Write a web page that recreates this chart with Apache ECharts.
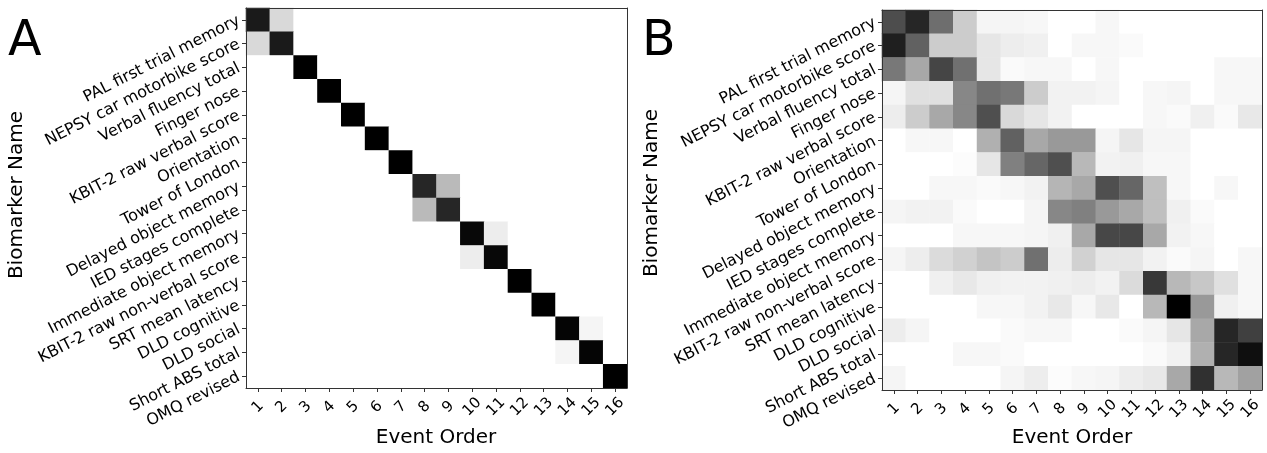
<!DOCTYPE html>
<html>
<head>
<meta charset="utf-8">
<script src="https://cdn.jsdelivr.net/npm/echarts@6/dist/echarts.min.js"></script>
<style>
html,body{margin:0;padding:0;background:#fff;}
#chart{width:1267px;height:453px;}
</style>
</head>
<body>
<div id="chart"></div>
<script>
const biomarkers = [
  'PAL first trial memory','NEPSY car motorbike score','Verbal fluency total','Finger nose',
  'KBIT-2 raw verbal score','Orientation','Tower of London','Delayed object memory',
  'IED stages complete','Immediate object memory','KBIT-2 raw non-verbal score','SRT mean latency',
  'DLD cognitive','DLD social','Short ABS total','OMQ revised'
];
const eventOrder = ['1','2','3','4','5','6','7','8','9','10','11','12','13','14','15','16'];

// Panel A: probability matrix (rows = biomarkers, cols = event order)
const matrixA = [
  [0.90,0.15,0,0,0,0,0,0,0,0,0,0,0,0,0,0],
  [0.15,0.90,0,0,0,0,0,0,0,0,0,0,0,0,0,0],
  [0,0,1.00,0,0,0,0,0,0,0,0,0,0,0,0,0],
  [0,0,0,1.00,0,0,0,0,0,0,0,0,0,0,0,0],
  [0,0,0,0,1.00,0,0,0,0,0,0,0,0,0,0,0],
  [0,0,0,0,0,1.00,0,0,0,0,0,0,0,0,0,0],
  [0,0,0,0,0,0,1.00,0,0,0,0,0,0,0,0,0],
  [0,0,0,0,0,0,0,0.85,0.27,0,0,0,0,0,0,0],
  [0,0,0,0,0,0,0,0.27,0.85,0,0,0,0,0,0,0],
  [0,0,0,0,0,0,0,0,0,0.97,0.07,0,0,0,0,0],
  [0,0,0,0,0,0,0,0,0,0.07,0.97,0,0,0,0,0],
  [0,0,0,0,0,0,0,0,0,0,0,1.00,0,0,0,0],
  [0,0,0,0,0,0,0,0,0,0,0,0,1.00,0,0,0],
  [0,0,0,0,0,0,0,0,0,0,0,0,0,0.98,0.04,0],
  [0,0,0,0,0,0,0,0,0,0,0,0,0,0.04,0.98,0],
  [0,0,0,0,0,0,0,0,0,0,0,0,0,0,0,1.00]
];

// Panel B
const matrixB = [
  [0.70,0.85,0.57,0.20,0.04,0.04,0.03,0,0,0.03,0,0,0,0,0,0],
  [0.88,0.62,0.20,0.20,0.10,0.07,0.06,0,0.03,0.03,0.02,0,0,0,0,0],
  [0.53,0.34,0.73,0.56,0.10,0.02,0.03,0.03,0,0.03,0,0,0,0,0.03,0.03],
  [0.04,0.12,0.12,0.47,0.56,0.53,0.20,0.05,0.05,0.04,0,0.03,0.04,0,0.03,0.03],
  [0.07,0.20,0.34,0.47,0.69,0.15,0.10,0.05,0,0,0,0.03,0.02,0.06,0.02,0.09],
  [0,0.03,0.03,0,0.31,0.62,0.34,0.40,0.40,0.04,0.10,0.04,0.04,0,0,0],
  [0,0,0,0.01,0.10,0.50,0.60,0.69,0.28,0.05,0.06,0.03,0.03,0,0,0],
  [0,0,0.03,0.03,0.02,0.03,0.05,0.29,0.34,0.69,0.60,0.25,0.03,0,0.03,0],
  [0.04,0.05,0.05,0.02,0,0,0.04,0.47,0.50,0.40,0.34,0.25,0.06,0.02,0,0],
  [0,0,0,0.03,0.03,0.03,0.04,0.06,0.34,0.72,0.72,0.34,0.05,0.03,0,0],
  [0.04,0.07,0.14,0.18,0.23,0.20,0.56,0.07,0.18,0.10,0.10,0.05,0.02,0.04,0,0.03],
  [0,0,0.06,0.09,0.06,0.05,0.05,0.06,0.07,0.05,0.14,0.78,0.28,0.22,0.12,0.03],
  [0,0,0,0,0.03,0.03,0.05,0.09,0.03,0.09,0,0.28,1.00,0.40,0.06,0.03],
  [0.07,0.04,0,0,0,0.02,0.03,0.03,0,0,0.02,0.04,0.10,0.34,0.85,0.75],
  [0,0,0,0.03,0.03,0.02,0,0,0,0,0,0.02,0.05,0.31,0.85,0.94],
  [0.04,0,0,0,0,0.04,0.07,0.01,0.03,0.04,0.07,0.09,0.34,0.81,0.28,0.37]
];

function toCells(m){
  const out=[];
  m.forEach((row,r)=>row.forEach((v,c)=>out.push([c,r,v])));
  return out;
}

const FONT = 'DejaVu Sans';
const frameColor = '#333';

function xAxes(gi){
  return [
    {type:'category',gridIndex:gi,data:eventOrder,position:'bottom',z:10,
     axisLine:{show:true,lineStyle:{color:frameColor,width:1}},
     axisTick:{show:true,interval:0,alignWithLabel:true,length:4,lineStyle:{color:frameColor}},
     axisLabel:{interval:0,rotate:45,margin:19,align:'center',verticalAlign:'middle',fontFamily:FONT,fontSize:15,color:'#000'},
     splitLine:{show:false}},
    {type:'category',gridIndex:gi,data:eventOrder,position:'top',z:10,
     axisLine:{show:true,onZero:false,lineStyle:{color:frameColor,width:1}},
     axisTick:{show:false},axisLabel:{show:false},splitLine:{show:false}}
  ];
}
function yAxes(gi){
  return [
    {type:'category',gridIndex:gi,data:biomarkers,inverse:true,position:'left',z:10,
     axisLine:{show:true,lineStyle:{color:frameColor,width:1}},
     axisTick:{show:true,interval:0,alignWithLabel:true,length:4,lineStyle:{color:frameColor}},
     axisLabel:{interval:0,rotate:27,margin:7,fontFamily:FONT,fontSize:16,color:'#000'},
     splitLine:{show:false}},
    {type:'category',gridIndex:gi,data:biomarkers,inverse:true,position:'right',z:10,
     axisLine:{show:true,onZero:false,lineStyle:{color:frameColor,width:1}},
     axisTick:{show:false},axisLabel:{show:false},splitLine:{show:false}}
  ];
}

const chart = echarts.init(document.getElementById('chart'),null,{renderer:'canvas'});
const option = {
  backgroundColor:'#fff',
  animation:false,
  grid:[
    {left:246,top:8,width:381,height:380},
    {left:882,top:10,width:380,height:380}
  ],
  xAxis:[...xAxes(0),...xAxes(1)],
  yAxis:[...yAxes(0),...yAxes(1)],
  visualMap:{show:false,min:0,max:1,calculable:false,dimension:2,
    inRange:{color:['#ffffff','#000000']}},
  series:[
    {type:'heatmap',xAxisIndex:0,yAxisIndex:0,data:toCells(matrixA),itemStyle:{borderWidth:0},emphasis:{disabled:true},z:1},
    {type:'heatmap',xAxisIndex:2,yAxisIndex:2,data:toCells(matrixB),itemStyle:{borderWidth:0},emphasis:{disabled:true},z:1}
  ],
  graphic:[
    {type:'text',left:8,top:18,style:{text:'A',font:'49px "DejaVu Sans"',fill:'#000'}},
    {type:'text',left:642,top:18,style:{text:'B',font:'49px "DejaVu Sans"',fill:'#000'}},
    {type:'text',x:17,y:195,rotation:Math.PI/2,style:{text:'Biomarker Name',font:'20px "DejaVu Sans"',fill:'#000',align:'center',verticalAlign:'middle'}},
    {type:'text',x:652,y:193,rotation:Math.PI/2,style:{text:'Biomarker Name',font:'20px "DejaVu Sans"',fill:'#000',align:'center',verticalAlign:'middle'}},
    {type:'text',x:436,y:438,style:{text:'Event Order',font:'20px "DejaVu Sans"',fill:'#000',align:'center',verticalAlign:'middle'}},
    {type:'text',x:1072,y:438,style:{text:'Event Order',font:'20px "DejaVu Sans"',fill:'#000',align:'center',verticalAlign:'middle'}}
  ]
};
chart.setOption(option);
</script>
</body>
</html>
